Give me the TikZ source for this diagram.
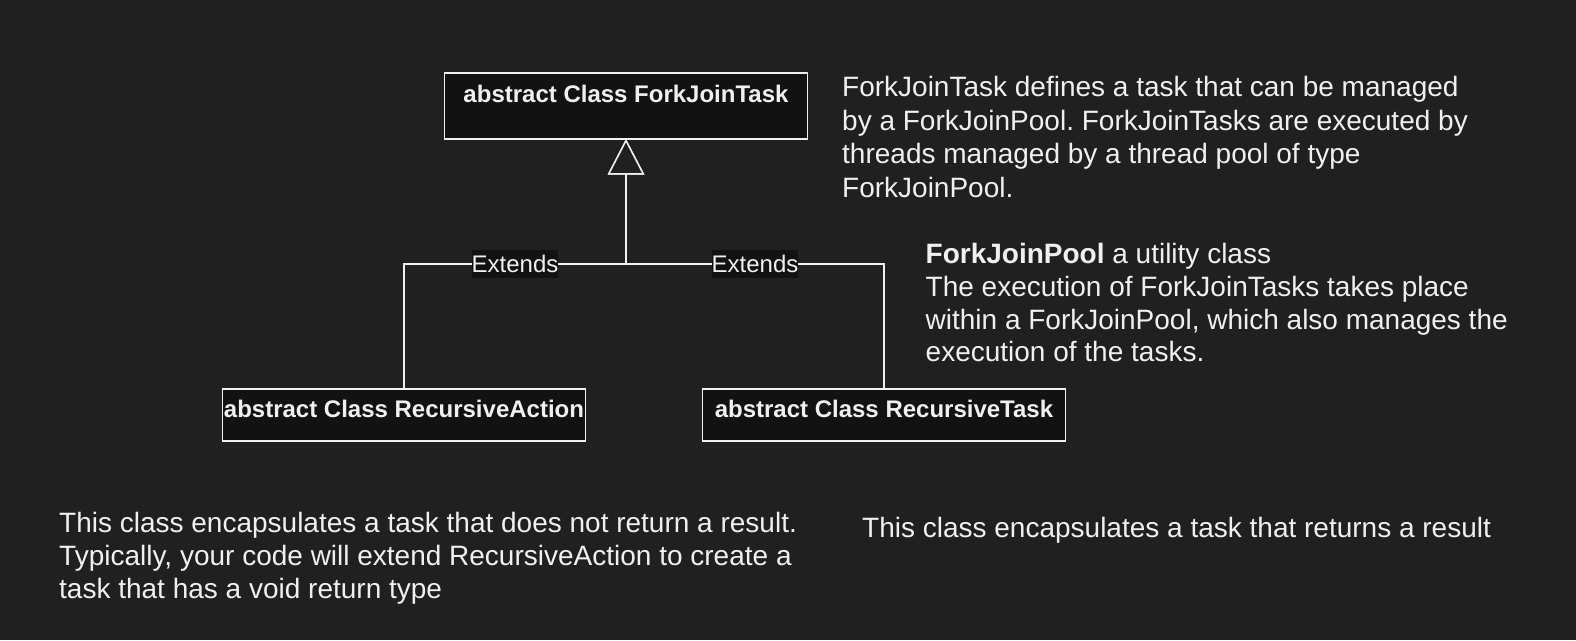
\documentclass[tikz,border=0pt]{standalone}
\usepackage{fontspec}
\setmainfont{Liberation Sans}
\usetikzlibrary{arrows.meta}
\definecolor{bgGray}{HTML}{202020}
\definecolor{boxFill}{HTML}{121212}
\definecolor{inkWhite}{HTML}{F0F0F0}
\frenchspacing

\begin{document}
\begin{tikzpicture}
[x=1pt,y=-1pt,
  classDecorate/.style={shape=rectangle,draw=inkWhite,fill=boxFill,line width=1.5pt,inner sep=0pt,outer sep=0pt,minimum width=363pt,text=inkWhite,font=\fontsize{24}{28}\selectfont\bfseries},%
  lineDecorate/.style={-{Triangle[open,length=35.7pt,width=36.6pt,fill=bgGray]},draw=inkWhite,line width=1.5pt},%
  labelDecorate/.style={fill=boxFill,text=inkWhite,inner sep=0pt,text height=22pt,text depth=6pt,font=\fontsize{24}{28}\selectfont},%
  noteDecorate/.style={anchor=north west,inner sep=0pt,align=left,text=inkWhite,font=\fontsize{28}{33.5}\selectfont}]
%% background and frame
\fill[bgGray] (0,0) rectangle (1576,640);
%% class boxes
\node (fjt) at (626,106) [classDecorate,text height=29.5pt,text depth=36.5pt] {abstract Class ForkJoinTask};
\foreach \nodename/\x/\classname in {ra/404/RecursiveAction, rt/884/RecursiveTask}
{
  \node (\nodename) at (\x,415) [classDecorate,text height=28pt,text depth=24pt] {abstract Class \classname};
}
%% inheritance edges
\coordinate (joint) at (626,264);
\foreach \startnode in {ra, rt}
{
  \draw[lineDecorate] (\startnode.north) |- (joint) node[labelDecorate,pos=0.75] {Extends} -- (fjt.south);
}
%% notes
\node (taskNote) at (842,76.3) [noteDecorate] {ForkJoinTask defines a task that can be managed\\by a ForkJoinPool. ForkJoinTasks are executed by\\threads managed by a thread pool of type\\ForkJoinPool.};
\node (poolNote) at (925.5,243) [noteDecorate,font=\fontsize{28}{32.8}\selectfont] {\textbf{ForkJoinPool} a utility class\\The execution of ForkJoinTasks takes place\\within a ForkJoinPool, which also manages the\\execution of the tasks.};
\node (actionNote) at (59,511.7) [noteDecorate,font=\fontsize{28}{33.2}\selectfont] {This class encapsulates a task that does not return a result.\\Typically, your code will extend RecursiveAction to create a\\task that has a void return type};
\node (resultNote) at (862,516.7) [noteDecorate] {This class encapsulates a task that returns a result};
\end{tikzpicture}
\end{document}
